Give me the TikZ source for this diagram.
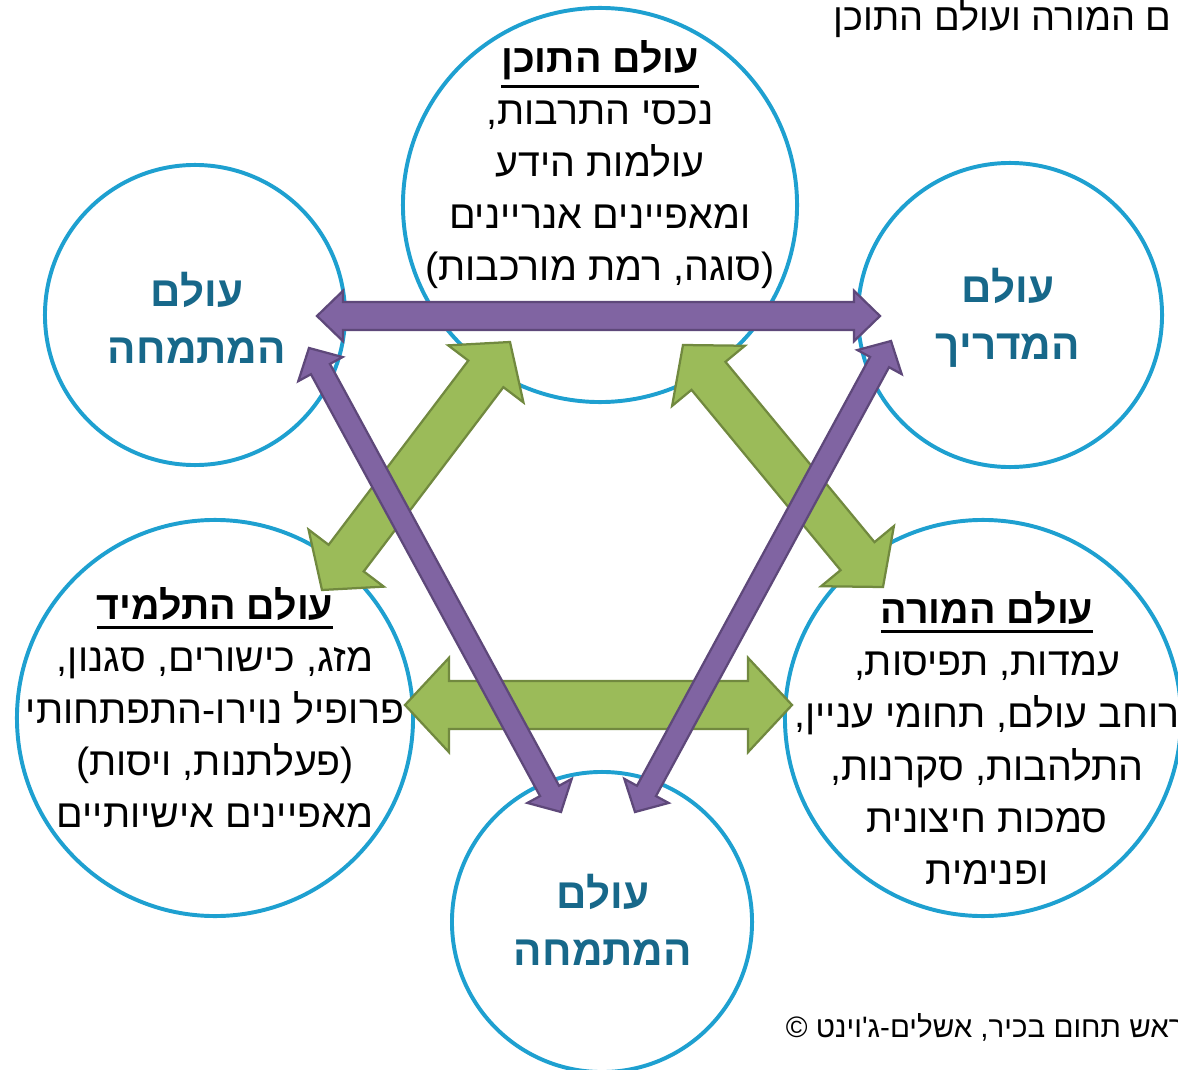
\documentclass[tikz,border=0pt]{standalone}
\usepackage{fontspec}
\setmainfont{Liberation Sans}
\newfontfamily\hebfont[Script=Hebrew]{Liberation Sans}
\TeXXeTstate=1
\usetikzlibrary{calc}

\definecolor{ringblue}{RGB}{30,160,208}
\definecolor{nameteal}{RGB}{23,104,138}
\definecolor{purplefill}{RGB}{128,100,162}
\definecolor{purpleline}{RGB}{94,72,122}
\definecolor{greenfill}{RGB}{155,187,89}
\definecolor{greenline}{RGB}{113,137,63}

\newcommand{\heb}[1]{\beginR #1\endR}
% bold title with a heavy underline
\newcommand{\ulhead}[1]{\setbox0=\hbox{\textbf{\heb{#1}}}\vtop{\box0\kern-\dp0\kern3.6pt\hrule height 2.2pt}}
% fat two-headed arrow: style, from, to, shaft half width, head half width, head length
\newcommand{\fatarrow}[6]{%
  \draw[#1] (#2)
    -- ($($(#2)!#6!(#3)$)!#5!90:(#3)$)
    -- ($($(#2)!#6!(#3)$)!#4!90:(#3)$)
    -- ($($(#3)!#6!(#2)$)!#4!-90:(#2)$)
    -- ($($(#3)!#6!(#2)$)!#5!-90:(#2)$)
    -- (#3)
    -- ($($(#3)!#6!(#2)$)!#5!90:(#2)$)
    -- ($($(#3)!#6!(#2)$)!#4!90:(#2)$)
    -- ($($(#2)!#6!(#3)$)!#4!-90:(#3)$)
    -- ($($(#2)!#6!(#3)$)!#5!-90:(#3)$)
    -- cycle;}

\tikzset{
  world/.style={circle, draw=ringblue, line width=2.8pt, fill=white, inner sep=0pt},
  worldtext/.style={align=center, font=\hebfont\fontsize{28}{37}\selectfont},
  worldname/.style={align=center, text=nameteal, font=\hebfont\bfseries\fontsize{30}{40.5}\selectfont},
  notetext/.style={font=\hebfont\fontsize{27}{30}\selectfont},
  credittext/.style={font=\hebfont\fontsize{21}{24}\selectfont},
  purplearrow/.style={fill=purplefill, draw=purpleline, line width=1.6pt},
  greenarrow/.style={fill=greenfill, draw=greenline, line width=1.6pt},
}

\begin{document}
\begin{tikzpicture}[x=0.025cm, y=-0.025cm]
\useasboundingbox (0,0) rectangle (1178,1070);
\clip (0,0) rectangle (1178,1070);

% circles
\node[world, minimum size=9.85cm] (content) at (600,205) {};
\node[world, minimum size=7.5cm] (internL) at (195,315) {};
\node[world, minimum size=7.6cm] (mentor) at (1010,315) {};
\node[world, minimum size=9.9cm] (student) at (215,718) {};
\node[world, minimum size=9.9cm] (teacher) at (983,718) {};
\node[world, minimum size=7.5cm] (internB) at (602,922) {};

% arrow ends
\coordinate (pL) at (317,316);
\coordinate (pR) at (880,316);
\coordinate (pLtop) at (309,348);
\coordinate (pLbot) at (561,812);
\coordinate (pRtop) at (891,341);
\coordinate (pRbot) at (635,812);
\coordinate (gLtop) at (510,342);
\coordinate (gLbot) at (322,590);
\coordinate (gRtop) at (683,345);
\coordinate (gRbot) at (883,587);
\coordinate (gL) at (405,705);
\coordinate (gR) at (792,705);

\fatarrow{greenarrow}{gLtop}{gLbot}{0.55cm}{1.18cm}{1.0cm}
\fatarrow{greenarrow}{gRtop}{gRbot}{0.55cm}{1.18cm}{1.0cm}
\fatarrow{greenarrow}{gL}{gR}{0.6cm}{1.18cm}{1.1cm}
\fatarrow{purplearrow}{pL}{pR}{0.35cm}{0.63cm}{0.65cm}
\fatarrow{purplearrow}{pLtop}{pLbot}{0.27cm}{0.63cm}{0.6cm}
\fatarrow{purplearrow}{pRtop}{pRbot}{0.27cm}{0.63cm}{0.6cm}

% texts
\node[worldtext] (contentTxt) at (600,165) {\ulhead{עולם התוכן}\\ \heb{נכסי התרבות,}\\ \heb{עולמות הידע}\\ \heb{ומאפיינים אנריינים}\\ \heb{(סוגה, רמת מורכבות)}};
\node[worldtext] (studentTxt) at (215,708) {\ulhead{עולם התלמיד}\\ \heb{מזג, כישורים, סגנון,}\\ \heb{פרופיל נוירו-התפתחותי}\\ \heb{(פעלתנות, ויסות)}\\ \heb{מאפיינים אישיותיים}};
\node[worldtext] (teacherTxt) at (987,738) {\ulhead{עולם המורה}\\ \heb{עמדות, תפיסות,}\\ \heb{רוחב עולם, תחומי עניין,}\\ \heb{התלהבות, סקרנות,}\\ \heb{סמכות חיצונית}\\ \heb{ופנימית}};
\node[worldname] (internLTxt) at (197,318) {\heb{עולם}\\ \heb{המתמחה}};
\node[worldname] (mentorTxt) at (1008,318) {\heb{עולם}\\ \heb{המדריך}};
\node[worldname] (internBTxt) at (603,920) {\heb{עולם}\\ \heb{המתמחה}};

\node[notetext, anchor=west] (topNote) at (829,19) {\heb{ם המורה ועולם התוכן}};
\node[credittext, anchor=west] (credit) at (781,1027) {\heb{ראש תחום בכיר, אשלים-ג'וינט ©}};
\end{tikzpicture}
\end{document}
